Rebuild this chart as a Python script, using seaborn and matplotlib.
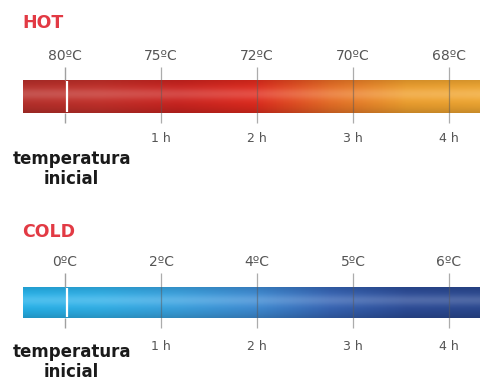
import numpy as np
import matplotlib
matplotlib.use("Agg")
import matplotlib.pyplot as plt
import seaborn as sns

hours = [0, 1, 2, 3, 4]
hour_labels = ["", "1 h", "2 h", "3 h", "4 h"]
hot_temps = ["80ºC", "75ºC", "72ºC", "70ºC", "68ºC"]
cold_temps = ["0ºC", "2ºC", "4ºC", "5ºC", "6ºC"]

hot_colors = ["#b8302b", "#c4302a", "#cc2420", "#e02a1e", "#e86e26", "#efa02e", "#f1a832"]
cold_colors = ["#26b2ea", "#30b0e8", "#3aa2e0", "#3e8cd4", "#3664b4", "#2c4c98", "#2a4890"]

sns.set_theme(style="white")
plt.rcParams["font.family"] = ["DejaVu Sans"]

fig = plt.figure(figsize=(4.8, 3.81), dpi=100)
ax = fig.add_axes([0, 0, 1, 1])

# x in hours: tick 0 at 65 px, 4 at 449 px
px_per_h = (449 - 65) / 4
x0 = -65 / px_per_h
x1 = (480 - 65) / px_per_h
ax.set_xlim(x0, x1)
ax.set_ylim(381, 0)
ax.axis("off")

bar_left = (23 - 65) / px_per_h


def draw_panel(title, temps, colors, title_y, temp_y, bar_top, bar_bot,
               line_top, line_bot, hour_y, init_y):
    ax.text(bar_left - 0.01, title_y, title, color="#e23a44", fontsize=12.5,
            fontweight="bold", va="center", ha="left")
    for h, t in zip(hours, temps):
        ax.text(h, temp_y, t, color="#555555", fontsize=10, ha="center", va="center")
    # gradient bar
    cmap = sns.blend_palette(colors, n_colors=256, as_cmap=True)
    nx, ny = 400, 40
    base = cmap(np.linspace(0, 1, nx))[:, :3]
    v = np.linspace(0, 1, ny)
    hl = 0.17 * np.exp(-((v - 0.42) / 0.18) ** 2)
    dk = 0.14 * (np.abs(v - 0.45) * 2) ** 2
    img = base[None, :, :] * (1 - dk[:, None, None])
    img = img * (1 - hl[:, None, None]) + hl[:, None, None]
    ax.imshow(img, extent=[bar_left, x1 + 0.05, bar_bot, bar_top], aspect="auto",
              interpolation="bilinear", zorder=1)
    for h in hours:
        if h == 0:
            ax.vlines(h, line_top, bar_top, color="#a0a0a0", lw=1.0, zorder=2)
            ax.vlines(h, bar_bot, line_bot, color="#a0a0a0", lw=1.0, zorder=2)
            ax.vlines(h + 0.02, bar_top + 1, bar_bot - 1, color="white", lw=1.6, zorder=3)
        else:
            ax.vlines(h, line_top, line_bot, color="#5a5a5a", lw=0.9, alpha=0.5, zorder=2)
    for h, lab in zip(hours, hour_labels):
        ax.text(h, hour_y, lab, color="#555555", fontsize=9, ha="center", va="center")
    ax.text(0.07, init_y, "temperatura\ninicial", color="#1a1a1a", fontsize=12,
            fontweight="bold", ha="center", va="center", linespacing=1.15)


draw_panel("HOT", hot_temps, hot_colors, 23, 56, 80, 113, 67, 123, 138, 169)
draw_panel("COLD", cold_temps, cold_colors, 232, 262, 287, 318, 273, 328, 346, 362)

fig.savefig("out.png", dpi=100, facecolor="white")
